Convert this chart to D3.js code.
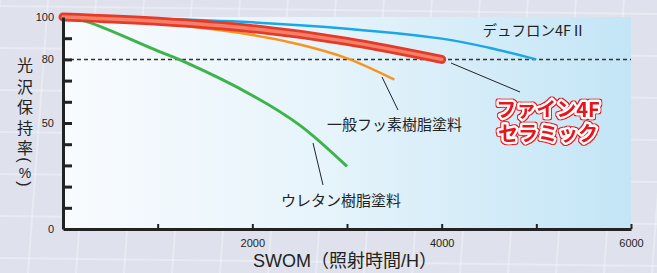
<!DOCTYPE html>
<html>
<head>
<meta charset="utf-8">
<script src="https://cdn.jsdelivr.net/npm/d3@7"></script>
<style>
  body { margin:0; padding:0; background:#dfe2ec; }
  svg { display:block; }
</style>
</head>
<body>
<div id="Vis"></div>
<script>

// data (hours, gloss retention %)
var hours_fine = [0, 1000, 2000, 3000, 4000];
var gloss_fine = [100, 98, 94.5, 88.5, 80];

var hours_duflon = [0, 1000, 2000, 3000, 4000, 4500, 5000];
var gloss_duflon = [100, 99.2, 97.5, 94.5, 89.8, 85.5, 80];

var hours_fluoro = [0, 1000, 2000, 2500, 3000, 3500];
var gloss_fluoro = [100, 97, 91.5, 87, 80.5, 70.5];

var hours_urethane = [0, 250, 1000, 1250, 2000, 2500, 3000];
var gloss_urethane = [100, 97.8, 84, 79.5, 63, 49, 29.5];

var xTicks = [0, 1000, 2000, 3000, 4000, 5000, 6000];
var xLabels = [2000, 4000, 6000];
var yTicks = [0, 10, 20, 30, 40, 50, 60, 70, 80, 90, 100];
var yLabels = [0, 50, 80, 100];

var width = 657, height = 273;
var plotLeft = 63, plotRight = 631, plotTop = 17, plotBottom = 229;

var svg = d3.select("#Vis").append("svg")
    .attr("width", width)
    .attr("height", height);

var defs = svg.append("defs");
var grad = defs.append("linearGradient").attr("id", "plotBg")
    .attr("x1", "0%").attr("x2", "100%").attr("y1", "0%").attr("y2", "0%");
grad.append("stop").attr("offset", "0%").attr("stop-color", "#f8fbfe");
grad.append("stop").attr("offset", "45%").attr("stop-color", "#e7f4fb");
grad.append("stop").attr("offset", "100%").attr("stop-color", "#c3e5f6");

// red rim round the white outline of the big label
var rim = defs.append("filter").attr("id", "redRim")
    .attr("x", "-10%").attr("y", "-30%").attr("width", "120%").attr("height", "160%");
rim.append("feMorphology").attr("in", "SourceAlpha").attr("operator", "dilate").attr("radius", 1.3).attr("result", "fat");
rim.append("feFlood").attr("flood-color", "#e8141c").attr("result", "red");
rim.append("feComposite").attr("in", "red").attr("in2", "fat").attr("operator", "in").attr("result", "rimShape");
var merge = rim.append("feMerge");
merge.append("feMergeNode").attr("in", "rimShape");
merge.append("feMergeNode").attr("in", "SourceGraphic");

// textured backdrop (rough imitation)
svg.append("rect").attr("width", width).attr("height", height).attr("fill", "#dfe2ec");
var tex = svg.append("g").attr("stroke", "#ffffff").attr("stroke-opacity", 0.3).attr("stroke-width", 2);
for (var i = -2; i < 16; i++) {
  tex.append("line").attr("x1", i*48).attr("y1", 0).attr("x2", i*48 - 20).attr("y2", height);
}
for (var j = 0; j < 7; j++) {
  tex.append("line").attr("x1", 0).attr("y1", j*42 + 6).attr("x2", width).attr("y2", j*42 + 14);
}

var x = d3.scaleLinear().domain([0, 6000]).range([plotLeft, plotRight]);
var y = d3.scaleLinear().domain([0, 100]).range([plotBottom, plotTop]);

svg.append("rect")
    .attr("x", plotLeft).attr("y", plotTop)
    .attr("width", plotRight - plotLeft).attr("height", plotBottom - plotTop)
    .attr("fill", "url(#plotBg)");

// 80% reference line
svg.append("line")
    .attr("x1", x(0)).attr("x2", x(6000))
    .attr("y1", y(80)).attr("y2", y(80))
    .attr("stroke", "#333")
    .attr("stroke-width", 1.5)
    .attr("stroke-dasharray", "4,3");

var line = d3.line()
    .x(function(d){ return x(d[0]); })
    .y(function(d){ return y(d[1]); })
    .curve(d3.curveCatmullRom.alpha(0.5));

function pairs(a, b){ return a.map(function(v, i){ return [v, b[i]]; }); }

svg.append("path").datum(pairs(hours_urethane, gloss_urethane))
    .attr("d", line).attr("fill", "none")
    .attr("stroke", "#3cb44a").attr("stroke-width", 3);

svg.append("path").datum(pairs(hours_fluoro, gloss_fluoro))
    .attr("d", line).attr("fill", "none")
    .attr("stroke", "#f7941d").attr("stroke-width", 2.5);

svg.append("path").datum(pairs(hours_duflon, gloss_duflon))
    .attr("d", line).attr("fill", "none")
    .attr("stroke", "#19a7e8").attr("stroke-width", 2.5);

// thick red tube
var fine = pairs(hours_fine, gloss_fine);
svg.append("path").datum(fine)
    .attr("d", line).attr("fill", "none")
    .attr("stroke", "#e63a28").attr("stroke-width", 9)
    .attr("stroke-linecap", "round");
svg.append("path").datum(fine)
    .attr("d", line).attr("fill", "none")
    .attr("stroke", "#f4806a").attr("stroke-width", 3.5)
    .attr("stroke-linecap", "round");

// axes
var yAxis = d3.axisLeft(y)
    .tickValues(yTicks)
    .tickSizeInner(-9)
    .tickSizeOuter(0)
    .tickPadding(9)
    .tickFormat(function(d){ return yLabels.indexOf(d) >= 0 ? d : ""; });

var gy = svg.append("g").attr("transform", "translate(" + plotLeft + ",0)").call(yAxis);
gy.select(".domain").attr("stroke", "#222").attr("stroke-width", 3);
gy.selectAll(".tick line").attr("stroke", "#222").attr("stroke-width", 3);
gy.selectAll(".tick").filter(function(d){ return d == 0 || d == 100; }).select("line").remove();
gy.selectAll(".tick text").attr("font-family", "Liberation Sans, Arial, sans-serif")
    .attr("font-size", 11).attr("fill", "#222");

var xAxis = d3.axisBottom(x)
    .tickValues(xTicks)
    .tickSizeInner(-5)
    .tickSizeOuter(0)
    .tickPadding(10)
    .tickFormat(function(d){ return xLabels.indexOf(d) >= 0 ? d : ""; });

var gx = svg.append("g").attr("transform", "translate(0," + plotBottom + ")").call(xAxis);
gx.select(".domain").attr("stroke", "#222").attr("stroke-width", 3);
gx.selectAll(".tick line").attr("stroke", "#222").attr("stroke-width", 2);
gx.selectAll(".tick text").attr("font-family", "Liberation Sans, Arial, sans-serif")
    .attr("font-size", 11).attr("fill", "#222");
gx.selectAll(".tick").filter(function(d){ return d == 0; }).remove();

// axis titles
svg.append("text")
    .attr("x", 345).attr("y", 267)
    .attr("text-anchor", "middle")
    .attr("font-family", "Liberation Sans, 'Noto Sans CJK JP', sans-serif")
    .attr("font-size", 18).attr("fill", "#222")
    .text("SWOM（照射時間/H）");

// vertical title, one glyph per row; brackets turned a quarter
var yTitle = ["光", "沢", "保", "持", "率", "(", "%", ")"];
var yTitlePos = [65.5, 87, 107.5, 128, 148, 160, 172.5, 184];
svg.append("g").selectAll("text")
    .data(yTitle)
    .enter().append("text")
    .attr("transform", function(d, i){
      var t = "translate(25," + yTitlePos[i] + ")";
      return (d == "(" || d == ")") ? t + " rotate(90)" : t;
    })
    .attr("dy", "0.36em")
    .attr("text-anchor", "middle")
    .attr("font-family", function(d){ return (d == "%" || d == "(" || d == ")") ? "Liberation Sans, sans-serif" : "'Noto Sans CJK JP', sans-serif"; })
    .attr("font-size", function(d){ return d == "%" ? 14 : 16; })
    .attr("fill", "#222")
    .text(function(d){ return d; });

// leader lines
var leaders = [[451, 63, 520, 92], [382, 77, 398, 110], [313, 143, 323, 185]];
svg.append("g").selectAll("line").data(leaders).enter().append("line")
    .attr("x1", function(d){ return d[0]; }).attr("y1", function(d){ return d[1]; })
    .attr("x2", function(d){ return d[2]; }).attr("y2", function(d){ return d[3]; })
    .attr("stroke", "#222").attr("stroke-width", 1);

function label(txt, cx, by, size){
  svg.append("text")
      .attr("x", cx).attr("y", by)
      .attr("text-anchor", "middle")
      .attr("font-family", "'Noto Sans CJK JP', sans-serif")
      .attr("font-size", size).attr("fill", "#222")
      .text(txt);
}
label("デュフロン4FⅡ", 534, 35.5, 14.5);
label("一般フッ素樹脂塗料", 394.5, 129.5, 15);
label("ウレタン樹脂塗料", 341, 205.5, 15);

// red label: red fill, white outline, thin red rim
var redLines = ["ファイン4F", "セラミック"];
var redY = [116.5, 140.5];
svg.append("g").attr("filter", "url(#redRim)")
    .selectAll("text").data(redLines).enter().append("text")
    .attr("x", 548).attr("y", function(d, i){ return redY[i]; })
    .attr("text-anchor", "middle")
    .attr("font-family", "'Noto Sans CJK JP', sans-serif")
    .attr("font-weight", "bold").attr("font-size", 20)
    .attr("fill", "#e8141c")
    .attr("stroke", "#ffffff").attr("stroke-width", 4.5)
    .attr("stroke-linejoin", "round")
    .attr("paint-order", "stroke")
    .text(function(d){ return d; });

</script>
</body>
</html>
